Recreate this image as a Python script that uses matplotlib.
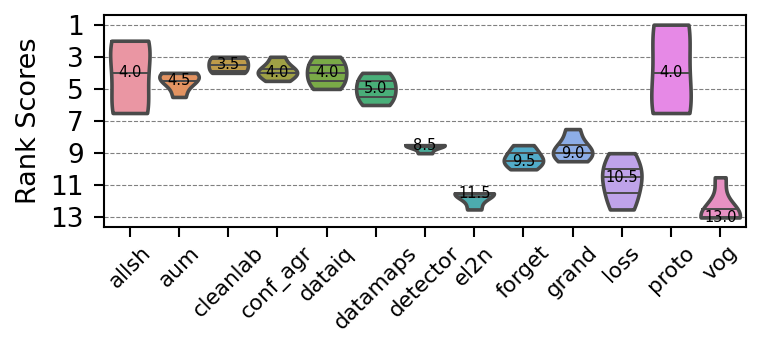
import numpy as np
import pandas as pd
import matplotlib
matplotlib.use("Agg")
import matplotlib.pyplot as plt
import seaborn as sns

# rangs par methode
methods = ["allsh", "aum", "cleanlab", "conf_agr", "dataiq", "datamaps",
           "detector", "el2n", "forget", "grand", "loss", "proto", "vog"]
allsh = [2, 2, 4, 6.5, 6.5]
aum = [4, 4, 4.5, 4.5, 5.5]
cleanlab = [3, 3, 3.5, 3.5, 4, 4]
conf_agr = [3, 3.75, 4, 4, 4.5]
dataiq = [3, 3.5, 4, 4.5, 5]
datamaps = [4, 4.5, 5, 5.5, 6]
detector = [8.5, 8.5, 8.5, 9]
el2n = [11.5, 11.5, 11.5, 12.5]
forget = [8.5, 9, 9.5, 9.5, 10]
grand = [7.5, 8.5, 9, 9, 9.5]
loss = [9, 10, 10.5, 11.5, 12.5]
proto = [1, 1, 4, 6.5, 6.5]
vog = [10.5, 12.5, 13, 13, 13]
all_ranks = [allsh, aum, cleanlab, conf_agr, dataiq, datamaps, detector,
             el2n, forget, grand, loss, proto, vog]

rows = []
for m, vals in zip(methods, all_ranks):
    for v in vals:
        rows.append({"method": m, "rank": v})
df = pd.DataFrame(rows)

fig = plt.figure(figsize=(7.61, 3.41), dpi=100)
ax = fig.add_axes([0.137, 0.334, 0.843, 0.622])

colors = sns.husl_palette(len(methods), l=.7)
sns.violinplot(data=df, x="method", y="rank", hue="method", palette=colors,
               order=methods, hue_order=methods, cut=0, inner="quart",
               density_norm="width", linewidth=2.6, linecolor="#4a4a4a",
               legend=False, ax=ax,
               inner_kws=dict(linewidth=1.4, dashes=(None, None)))

# etiquettes des medianes
for i, vals in enumerate(all_ranks):
    med = np.median(vals)
    ax.text(i, med, f"{med:.1f}", ha="center", va="center", fontsize=10.5,
            color="black")

ax.set_yticks([1, 3, 5, 7, 9, 11, 13])
ax.set_ylim(13.6, 0.4)
ax.set_xlim(-0.52, len(methods) - 0.48)
ax.yaxis.grid(True, linestyle="--", color="gray", linewidth=0.8)
ax.set_axisbelow(True)
ax.set_xlabel("")
ax.set_ylabel("Rank Scores", fontsize=19.5, labelpad=6)
ax.tick_params(axis="y", labelsize=19, length=7.5, width=1.5, pad=7)
ax.tick_params(axis="x", labelsize=15.5, length=7.5, width=1.5)
plt.setp(ax.get_xticklabels(), rotation=45, ha="center")
for sp in ax.spines.values():
    sp.set_linewidth(1.5)
    sp.set_color("black")

fig.savefig("out.png", dpi=100)
